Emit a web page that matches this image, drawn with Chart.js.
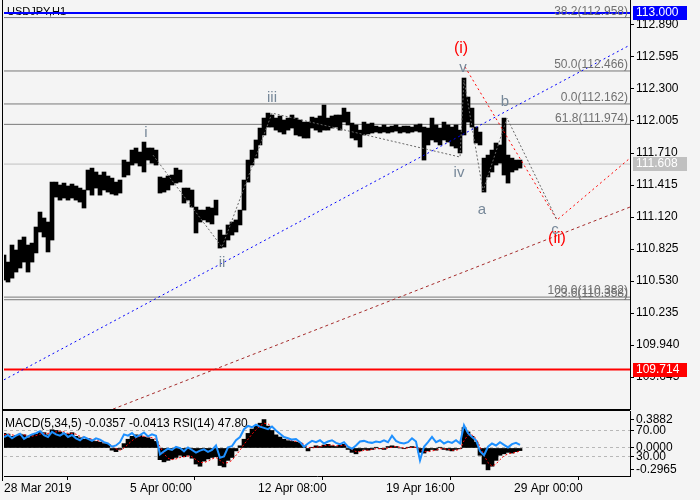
<!DOCTYPE html>
<html>
<head>
<meta charset="utf-8">
<script src="https://cdn.jsdelivr.net/npm/chart.js@4.4.0/dist/chart.umd.min.js"></script>
<style>
  html, body { margin: 0; padding: 0; background: #f4f4f4; }
  #wrap { position: relative; width: 700px; height: 500px; overflow: hidden; }
  #priceChart { position: absolute; left: 0; top: 0; }
  #oscChart { position: absolute; left: 0; top: 410px; }
</style>
</head>
<body>
<div id="wrap">
  <canvas id="priceChart" width="700" height="410"></canvas>
  <canvas id="oscChart" width="700" height="90"></canvas>
</div>
<script>
// one sample = 4 hourly bars
const STEP = 4;

const priceHigh = [
  110.770, 110.705, 110.862, 110.816, 110.908, 110.936, 110.862, 110.880, 111.028, 111.166,
  111.111, 111.074, 111.442, 111.442, 111.415, 111.433, 111.406, 111.424, 111.406, 111.387,
  111.369, 111.553, 111.571, 111.535, 111.507, 111.535, 111.498, 111.479, 111.442, 111.461,
  111.645, 111.627, 111.737, 111.756, 111.719, 111.811, 111.756, 111.756, 111.737, 111.489,
  111.479, 111.498, 111.507, 111.571, 111.553, 111.387, 111.387, 111.369, 111.212, 111.184,
  111.184, 111.212, 111.203, 111.276, 111.000, 110.954, 111.047, 111.074, 111.093, 111.184,
  111.461, 111.645, 111.737, 111.830, 111.940, 112.032, 112.078, 112.060, 112.032, 112.051,
  112.014, 112.032, 112.060, 112.032, 112.014, 111.995, 111.995, 112.041, 112.032, 112.051,
  112.152, 112.032, 112.051, 112.060, 112.060, 112.124, 112.087, 111.986, 111.968, 111.921,
  111.995, 111.977, 111.986, 111.958, 111.949, 111.968, 111.949, 111.958, 111.968, 111.949,
  111.958, 111.958, 111.949, 111.968, 111.977, 111.949, 111.940, 112.032, 111.968, 111.940,
  111.995, 111.968, 111.949, 111.968, 111.921, 112.401, 112.226, 112.124, 111.949, 111.903,
  111.663, 111.691, 111.737, 111.802, 111.784, 112.032, 111.691, 111.663, 111.645, 111.645
];
const priceLow = [
  110.539, 110.521, 110.557, 110.613, 110.650, 110.705, 110.613, 110.705, 110.789, 110.982,
  110.936, 110.798, 110.908, 111.304, 111.276, 111.295, 111.276, 111.295, 111.276, 111.258,
  111.203, 111.369, 111.322, 111.387, 111.322, 111.369, 111.350, 111.332, 111.322, 111.341,
  111.489, 111.507, 111.599, 111.617, 111.590, 111.535, 111.645, 111.617, 111.599, 111.341,
  111.350, 111.369, 111.415, 111.433, 111.442, 111.249, 111.276, 111.212, 110.973, 111.074,
  111.093, 111.074, 111.056, 111.138, 110.834, 110.843, 110.908, 110.954, 110.982, 111.047,
  111.184, 111.442, 111.599, 111.663, 111.784, 111.876, 111.949, 111.949, 111.921, 111.903,
  111.885, 111.921, 111.940, 111.876, 111.866, 111.848, 111.848, 111.940, 111.921, 111.903,
  111.921, 111.921, 111.940, 111.949, 111.921, 111.995, 111.968, 111.848, 111.830, 111.765,
  111.876, 111.885, 111.894, 111.903, 111.894, 111.903, 111.894, 111.903, 111.912, 111.894,
  111.903, 111.894, 111.903, 111.912, 111.903, 111.645, 111.784, 111.830, 111.811, 111.784,
  111.830, 111.811, 111.774, 111.756, 111.710, 111.876, 111.995, 111.949, 111.802, 111.784,
  111.350, 111.489, 111.535, 111.599, 111.617, 111.507, 111.433, 111.535, 111.553, 111.571
];

const macdHist = [
  0.20, 0.19, 0.16, 0.17, 0.19, 0.18, 0.14, 0.17, 0.19, 0.22,
  0.21, 0.18, 0.25, 0.24, 0.22, 0.20, 0.19, 0.21, 0.16, 0.14,
  0.12, 0.13, 0.11, 0.09, 0.08, 0.06, 0.05, -0.03, -0.05, -0.02,
  0.06, 0.12, 0.16, 0.18, 0.17, 0.15, 0.14, 0.12, 0.09, -0.16,
  -0.19, -0.17, -0.15, -0.13, -0.10, -0.12, -0.10, -0.14, -0.22, -0.25,
  -0.18, -0.15, -0.13, -0.12, -0.24, -0.26, -0.17, -0.13, -0.04, 0.03,
  0.12, 0.20, 0.26, 0.30, 0.34, 0.39, 0.30, 0.24, 0.18, 0.15,
  0.12, 0.10, 0.09, 0.08, 0.07, 0.02, -0.04, 0.01, 0.03, 0.02,
  0.04, 0.05, 0.03, 0.02, 0.04, 0.05, -0.02, -0.06, -0.08, -0.04,
  -0.02, -0.03, -0.02, 0.01, -0.01, -0.02, 0.02, 0.03, 0.02, 0.00,
  -0.01, 0.01, 0.02, 0.01, -0.06, -0.07, -0.04, -0.02, -0.03, 0.01,
  -0.02, -0.03, -0.04, -0.02, -0.01, 0.28, 0.22, 0.16, 0.08, -0.10,
  -0.22, -0.30, -0.25, -0.17, -0.10, -0.08, -0.06, -0.07, -0.05, -0.036
];
const macdSignal = [
  0.18, 0.19, 0.18, 0.17, 0.17, 0.18, 0.17, 0.16, 0.17, 0.19,
  0.20, 0.20, 0.21, 0.22, 0.23, 0.22, 0.20, 0.20, 0.19, 0.16,
  0.14, 0.13, 0.12, 0.11, 0.09, 0.08, 0.06, 0.03, -0.01, -0.03,
  0.00, 0.05, 0.10, 0.14, 0.16, 0.16, 0.15, 0.14, 0.12, 0.02,
  -0.08, -0.14, -0.16, -0.15, -0.13, -0.12, -0.11, -0.12, -0.16, -0.20,
  -0.20, -0.18, -0.15, -0.13, -0.17, -0.21, -0.20, -0.17, -0.10, -0.03,
  0.05, 0.12, 0.19, 0.25, 0.30, 0.34, 0.33, 0.29, 0.23, 0.19,
  0.15, 0.12, 0.10, 0.09, 0.08, 0.05, 0.01, 0.00, 0.01, 0.02,
  0.03, 0.04, 0.04, 0.03, 0.03, 0.04, 0.02, -0.02, -0.05, -0.05,
  -0.03, -0.03, -0.02, -0.01, -0.01, -0.01, 0.00, 0.01, 0.02, 0.01,
  0.00, 0.00, 0.01, 0.01, -0.02, -0.05, -0.05, -0.04, -0.03, -0.01,
  -0.01, -0.02, -0.03, -0.03, -0.02, 0.10, 0.18, 0.18, 0.13, 0.02,
  -0.10, -0.20, -0.25, -0.22, -0.16, -0.11, -0.08, -0.07, -0.06, -0.041
];
const rsiValues = [
  60, 63, 58, 62, 65, 57, 61, 64, 66, 69,
  63, 60, 68, 64, 62, 66, 60, 63, 58, 55,
  60, 57, 54, 58, 56, 52, 50, 45, 47, 52,
  64, 62, 66, 60, 63, 67, 61, 64, 62, 33,
  38, 42, 40, 45, 43, 38, 44, 40, 36, 39,
  41, 37, 40, 47, 28, 30, 44, 46, 55, 60,
  72, 77, 75, 79, 76, 74, 72, 76, 70, 65,
  60, 58, 56, 57, 52, 45, 50, 54, 52, 55,
  50, 53, 55, 51, 49, 52, 45, 42, 47, 53,
  54, 52, 51, 53, 52, 55, 52, 62, 54, 51,
  50, 52, 58, 53, 24, 45, 52, 60, 52, 55,
  50, 53, 51, 55, 50, 78, 66, 60, 55, 38,
  32, 45, 50, 47, 52, 48, 44, 49, 51, 47.8
];

const priceTicks = [112.890, 112.595, 112.300, 112.005, 111.710, 111.415, 111.120, 110.825, 110.530, 110.235, 109.940, 109.645];
const dateTicks = [0, 126, 254, 382, 510];
const dateLabels = ['28 Mar 2019', '5 Apr 00:00', '12 Apr 08:00', '19 Apr 16:00', '29 Apr 00:00'];

const fibLevels = [112.958, 112.466, 112.162, 111.974, 110.382, 110.358];
const fibNames = ['38.2', '50.0', '0.0', '61.8', '100.0', '23.6'];

const resistLevel = 113.000;
const supportLevel = 109.714;
const lastPrice = 111.608;

// wave count path (grey dots)
const waveIdx = [149, 218, 268, 456, 460, 479, 503, 553];
const wavePrice = [111.691, 110.843, 112.078, 111.673, 112.383, 111.360, 112.032, 111.093];
// red forecast path (i) -> (ii) -> up
const forecastIdx = [461, 553, 626];
const forecastPrice = [112.503, 111.093, 111.663];
// channel lines
const channelIdx = [0, 626];
const channelPrice = [109.620, 112.705];
const lowerChannelIdx = [109, 626];
const lowerChannelPrice = [109.350, 111.212];

const waveLabels = ['i', 'ii', 'iii', 'iv', 'v', 'a', 'b', 'c', '(i)', '(ii)'];
const waveLabelIdx = [142, 218, 268, 455, 459, 478, 501, 551, 457, 553];
const waveLabelPrice = [111.894, 110.696, 112.216, 111.525, 112.493, 111.184, 112.180, 111.000, 112.668, 110.917];

const oscTickLabels = ['0.3882', '70.00', '0.0000', '30.00', '-0.2965'];
const M_MIN = -0.384, M_MAX = 0.507;
const rsiToMacd = r => M_MIN + r / 100 * (M_MAX - M_MIN);

const FONT = 'Liberation Sans, Arial, sans-serif';

function pts(idx, vals) {
  return idx.map((x, i) => ({ x: x, y: vals[i] }));
}
function flat(level) {
  return [{ x: 0, y: level }, { x: 626, y: level }];
}
function levelLine(level, color, width) {
  return {
    type: 'line', data: flat(level), borderColor: color, borderWidth: width,
    pointRadius: 0, order: 5
  };
}
function dotted(data, color, dash) {
  return {
    type: 'line', data: data, borderColor: color, borderWidth: 1,
    borderDash: dash, pointRadius: 0, order: 1
  };
}

const priceOverlay = {
  id: 'priceOverlay',
  beforeDatasetsDraw(chart) {
    const { ctx, chartArea } = chart;
    ctx.save();
    ctx.strokeStyle = '#000';
    ctx.lineWidth = 1;
    ctx.beginPath();
    ctx.moveTo(2.5, 0);
    ctx.lineTo(2.5, chartArea.bottom + 1);
    ctx.moveTo(2, chartArea.bottom + 0.5);
    ctx.lineTo(chartArea.right, chartArea.bottom + 0.5);
    ctx.stroke();
    ctx.fillStyle = '#000';
    ctx.font = '11px ' + FONT;
    ctx.textBaseline = 'middle';
    ctx.fillText('USDJPY,H1', 7, 12);
    ctx.restore();
  },
  afterDatasetsDraw(chart) {
    const { ctx, chartArea, scales } = chart;
    const x = scales.x, y = scales.y;
    ctx.save();
    // fibo labels
    ctx.font = '12px ' + FONT;
    ctx.fillStyle = '#707070';
    ctx.textAlign = 'right';
    ctx.textBaseline = 'bottom';
    fibLevels.forEach((lv, i) => {
      ctx.fillText(fibNames[i] + '(' + lv.toFixed(3) + ')', chartArea.right - 2, y.getPixelForValue(lv));
    });
    // wave labels
    ctx.textAlign = 'center';
    ctx.textBaseline = 'middle';
    waveLabels.forEach((t, i) => {
      const red = t.startsWith('(');
      ctx.font = (red ? '16px ' : '15px ') + FONT;
      ctx.fillStyle = red ? '#ff0000' : '#778899';
      ctx.fillText(t, x.getPixelForValue(waveLabelIdx[i]), y.getPixelForValue(waveLabelPrice[i]));
    });
    ctx.restore();
  },
  afterDraw(chart) {
    const { ctx, chartArea, scales } = chart;
    const y = scales.y;
    const boxes = [[resistLevel, '#0000ff'], [lastPrice, '#c0c0c0'], [supportLevel, '#ff0000']];
    ctx.save();
    ctx.font = '12px ' + FONT;
    ctx.textBaseline = 'middle';
    boxes.forEach(([lv, col]) => {
      const py = Math.round(y.getPixelForValue(lv));
      ctx.fillStyle = col;
      ctx.fillRect(chartArea.right + 3, py - 7, 54, 14);
      ctx.fillStyle = '#fff';
      ctx.fillText(lv.toFixed(3), chartArea.right + 6, py);
    });
    ctx.restore();
  }
};

new Chart(document.getElementById('priceChart'), {
  type: 'bar',
  data: {
    datasets: [
      ...fibLevels.map(lv => levelLine(lv, '#787878', 1)),
      levelLine(lastPrice, '#c0c0c0', 1),
      levelLine(resistLevel, '#0000ff', 2),
      levelLine(supportLevel, '#ff0000', 2),
      {
        type: 'bar',
        data: priceHigh.map((h, k) => ({ x: k * STEP, y: [priceLow[k], h] })),
        backgroundColor: '#000',
        barThickness: 4,
        order: 3
      },
      dotted(pts(channelIdx, channelPrice), '#0000ff', [2, 3]),
      dotted(pts(lowerChannelIdx, lowerChannelPrice), '#a52a2a', [3, 3]),
      dotted(pts(waveIdx, wavePrice), '#666666', [2, 2]),
      dotted(pts(forecastIdx, forecastPrice), '#ff0000', [2, 3])
    ]
  },
  options: {
    responsive: false,
    animation: false,
    events: [],
    layout: { padding: { left: 4, top: 0, right: 0, bottom: 1 } },
    plugins: { legend: { display: false }, tooltip: { enabled: false } },
    scales: {
      x: { type: 'linear', min: 0, max: 626, display: false, offset: false },
      y: {
        position: 'right',
        min: 109.351,
        max: 113.120,
        grid: { drawOnChartArea: false, tickLength: 4, color: '#000' },
        border: { color: '#000' },
        ticks: {
          color: '#000', padding: 2, autoSkip: false, font: { family: FONT, size: 12 },
          callback: v => v.toFixed(3)
        },
        afterBuildTicks: s => { s.ticks = priceTicks.map(v => ({ value: v })); },
        afterFit: s => { s.width = 70; s.paddingTop = 0; s.paddingBottom = 0; }
      }
    }
  },
  plugins: [priceOverlay]
});

const oscOverlay = {
  id: 'oscOverlay',
  beforeDatasetsDraw(chart) {
    const { ctx, chartArea } = chart;
    ctx.save();
    ctx.strokeStyle = '#000';
    ctx.lineWidth = 1;
    ctx.beginPath();
    ctx.moveTo(2.5, 0);
    ctx.lineTo(2.5, chartArea.bottom + 5);
    ctx.moveTo(2, 0.5);
    ctx.lineTo(chartArea.right, 0.5);
    ctx.stroke();
    ctx.restore();
  },
  afterDatasetsDraw(chart) {
    const { ctx } = chart;
    ctx.save();
    ctx.font = '12px ' + FONT;
    ctx.fillStyle = '#000';
    ctx.textBaseline = 'middle';
    ctx.fillText('MACD(5,34,5) -0.0357 -0.0413 RSI(14) 47.80', 5, 14);
    ctx.restore();
  }
};

new Chart(document.getElementById('oscChart'), {
  type: 'bar',
  data: {
    datasets: [
      {
        type: 'line', yAxisID: 'yRsi',
        data: rsiValues.map((v, k) => ({ x: k * STEP, y: v })),
        borderColor: '#1e90ff', borderWidth: 2, pointRadius: 0, order: 1
      },
      {
        type: 'line', yAxisID: 'yMacd',
        data: macdSignal.map((v, k) => ({ x: k * STEP, y: v })),
        borderColor: '#ff0000', borderWidth: 1, borderDash: [2, 2], pointRadius: 0, order: 2
      },
      {
        type: 'bar', yAxisID: 'yMacd',
        data: macdHist.map((v, k) => ({ x: k * STEP, y: v })),
        backgroundColor: '#000', barThickness: 4, order: 3
      }
    ]
  },
  options: {
    responsive: false,
    animation: false,
    events: [],
    layout: { padding: { left: 4, top: 1, right: 0, bottom: 0 } },
    plugins: { legend: { display: false }, tooltip: { enabled: false } },
    scales: {
      x: {
        type: 'linear', min: 0, max: 626, offset: false,
        grid: { drawOnChartArea: false, tickLength: 4, color: '#000' },
        border: { color: '#000' },
        ticks: {
          color: '#000', padding: 1, align: 'start', autoSkip: false, maxRotation: 0,
          font: { family: FONT, size: 12 },
          callback: (v, i) => dateLabels[i]
        },
        afterBuildTicks: s => { s.ticks = dateTicks.map(v => ({ value: v })); },
        afterFit: s => { s.height = 24; s.paddingLeft = 0; s.paddingRight = 0; }
      },
      yMacd: {
        type: 'linear', position: 'right', min: M_MIN, max: M_MAX,
        grid: {
          tickLength: 4, tickColor: '#000', borderDash: [3, 3],
          color: c => (c.index >= 1 && c.index <= 3) ? '#b8b8b8' : 'rgba(0,0,0,0)'
        },
        border: { color: '#000', dash: [3, 3] },
        ticks: {
          color: '#000', padding: 2, autoSkip: false, font: { family: FONT, size: 12 },
          callback: (v, i) => oscTickLabels[i]
        },
        afterBuildTicks: s => {
          s.ticks = [0.3882, rsiToMacd(70), 0, rsiToMacd(30), -0.2965].map(v => ({ value: v }));
        },
        afterFit: s => { s.width = 70; s.paddingTop = 0; s.paddingBottom = 0; }
      },
      yRsi: { type: 'linear', display: false, min: 0, max: 100 }
    }
  },
  plugins: [oscOverlay]
});
</script>
</body>
</html>
